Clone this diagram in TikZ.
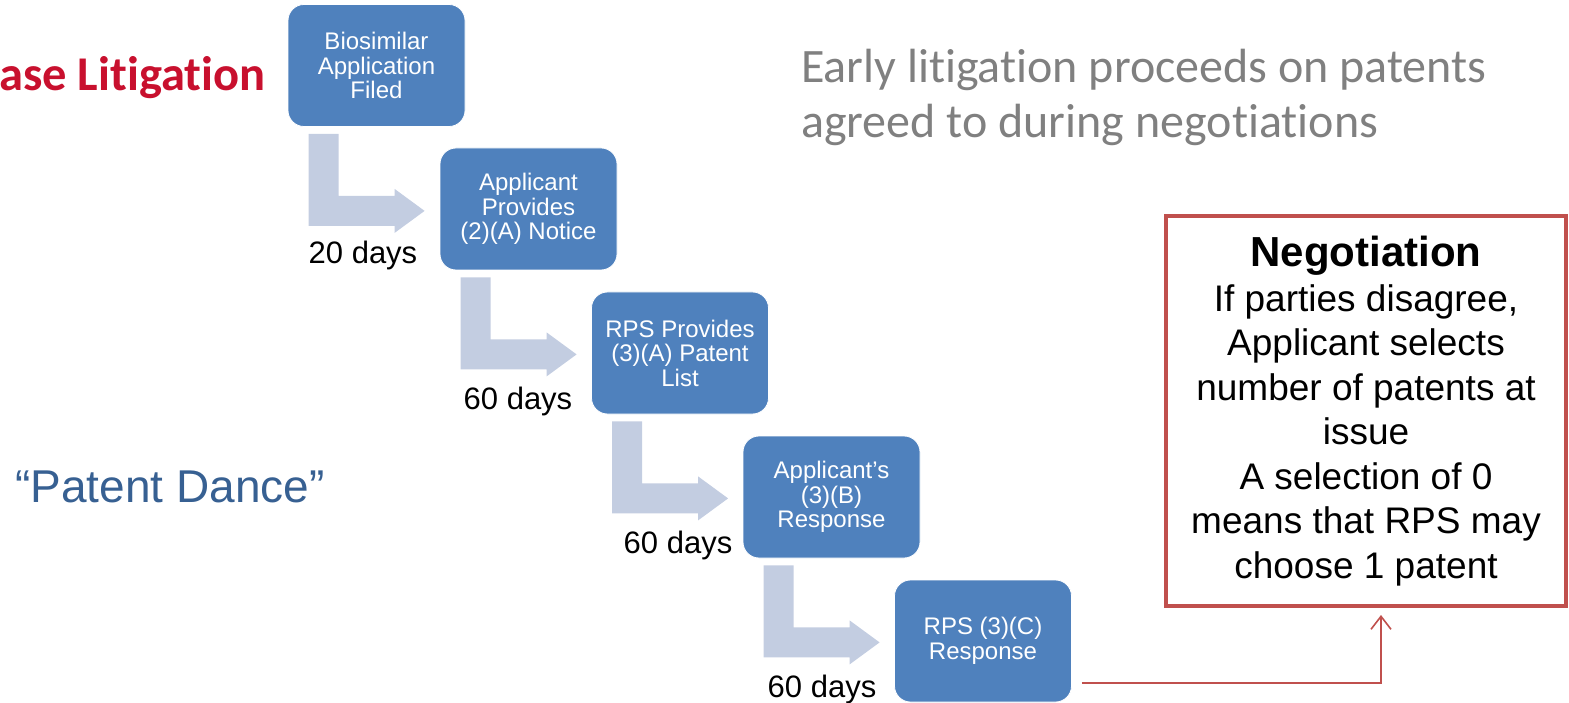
\documentclass[tikz,border=0pt]{standalone}
\usepackage{fontspec}
\setmainfont{Liberation Sans}
\newfontfamily\calib[Ligatures=NoCommon]{Carlito}
\usetikzlibrary{calc,arrows.meta}
\definecolor{boxblue}{HTML}{4F81BD}
\definecolor{arrowblue}{HTML}{C3CDE1}
\definecolor{negred}{HTML}{C0504D}
\definecolor{titlered}{RGB}{200,16,46}
\definecolor{dancblue}{RGB}{55,96,146}
\definecolor{titlegray}{RGB}{128,128,128}
\tikzset{
  stepbox/.style={draw=white, line width=0.8pt, fill=boxblue, rounded corners=16pt,
    minimum width=177pt, minimum height=122pt, text=white, align=center,
    font=\fontsize{24}{24.5}\selectfont, inner sep=2pt},
  bentarrow/.style={fill=arrowblue, draw=none},
  daylabel/.style={anchor=base, font=\fontsize{31}{36}\selectfont, inner sep=0pt},
  negbox/.style={draw=negred, line width=4pt, fill=white, minimum width=400pt,
    minimum height=390pt, align=center, font=\fontsize{37}{44.5}\selectfont, inner sep=0pt},
  redline/.style={draw=negred, line width=2pt, -{Straight Barb[length=13pt,width=20pt,line width=1.6pt]}},
}
\begin{document}
\begin{tikzpicture}[x=1pt,y=-1pt]
\useasboundingbox (0,0) rectangle (1569,703);
% step boxes
\node[stepbox] (b1) at (376.5,65.5) {Biosimilar\\Application\\Filed};
\node[stepbox] (b2) at (528.5,209) {Applicant\\Provides\\(2)(A) Notice};
\node[stepbox] (b3) at (680,353) {RPS Provides\\(3)(A) Patent\\List};
\node[stepbox] (b4) at (831.5,497) {Applicant’s\\(3)(B)\\Response};
\node[stepbox] (b5) at (983,641) {RPS (3)(C)\\Response};
% bent arrows
\foreach \s in {b1,b2,b3,b4}{
  \fill[bentarrow] ($(\s.south west)+(21,7)$) -- ++(30,0) -- ++(0,62) -- ++(56,0)
    -- ++(0,-7) -- ++(30,22) -- ++(-30,22) -- ++(0,-7) -- ++(-86,0) -- cycle;
}
% day labels
\node[daylabel] (d1) at (363,264) {20 days};
\node[daylabel] (d2) at (518,409) {60 days};
\node[daylabel] (d3) at (678,553) {60 days};
\node[daylabel] (d4) at (822,697) {60 days};
% titles
\node[anchor=base west, inner sep=0pt, text=titlered, font=\calib\bfseries\fontsize{48.5}{56}\selectfont] (lit) at (-1,91) {ase Litigation};
\node[anchor=base west, inner sep=0pt, text=dancblue, font=\fontsize{46}{55}\selectfont] (dance) at (15,502) {“Patent Dance”};
\node[anchor=north west, inner sep=0pt, text=titlegray, align=left, font=\calib\fontsize{48}{54.5}\selectfont] (early) at (801,49) {Early litigation proceeds on patents\\agreed to during negotiations};
% negotiation box
\node[negbox] (neg) at (1366,411) {{\bfseries\fontsize{42}{44.5}\selectfont Negotiation}\\If parties disagree,\\Applicant selects\\number of patents at\\issue\\A selection of 0\\means that RPS may\\choose 1 patent};
\coordinate (c5) at ($(b5.south east)+(10,-19)$);
\coordinate (cn) at ($(neg.south)+(15,7)$);
\draw[redline] (c5) -| (cn);
\end{tikzpicture}
\end{document}
